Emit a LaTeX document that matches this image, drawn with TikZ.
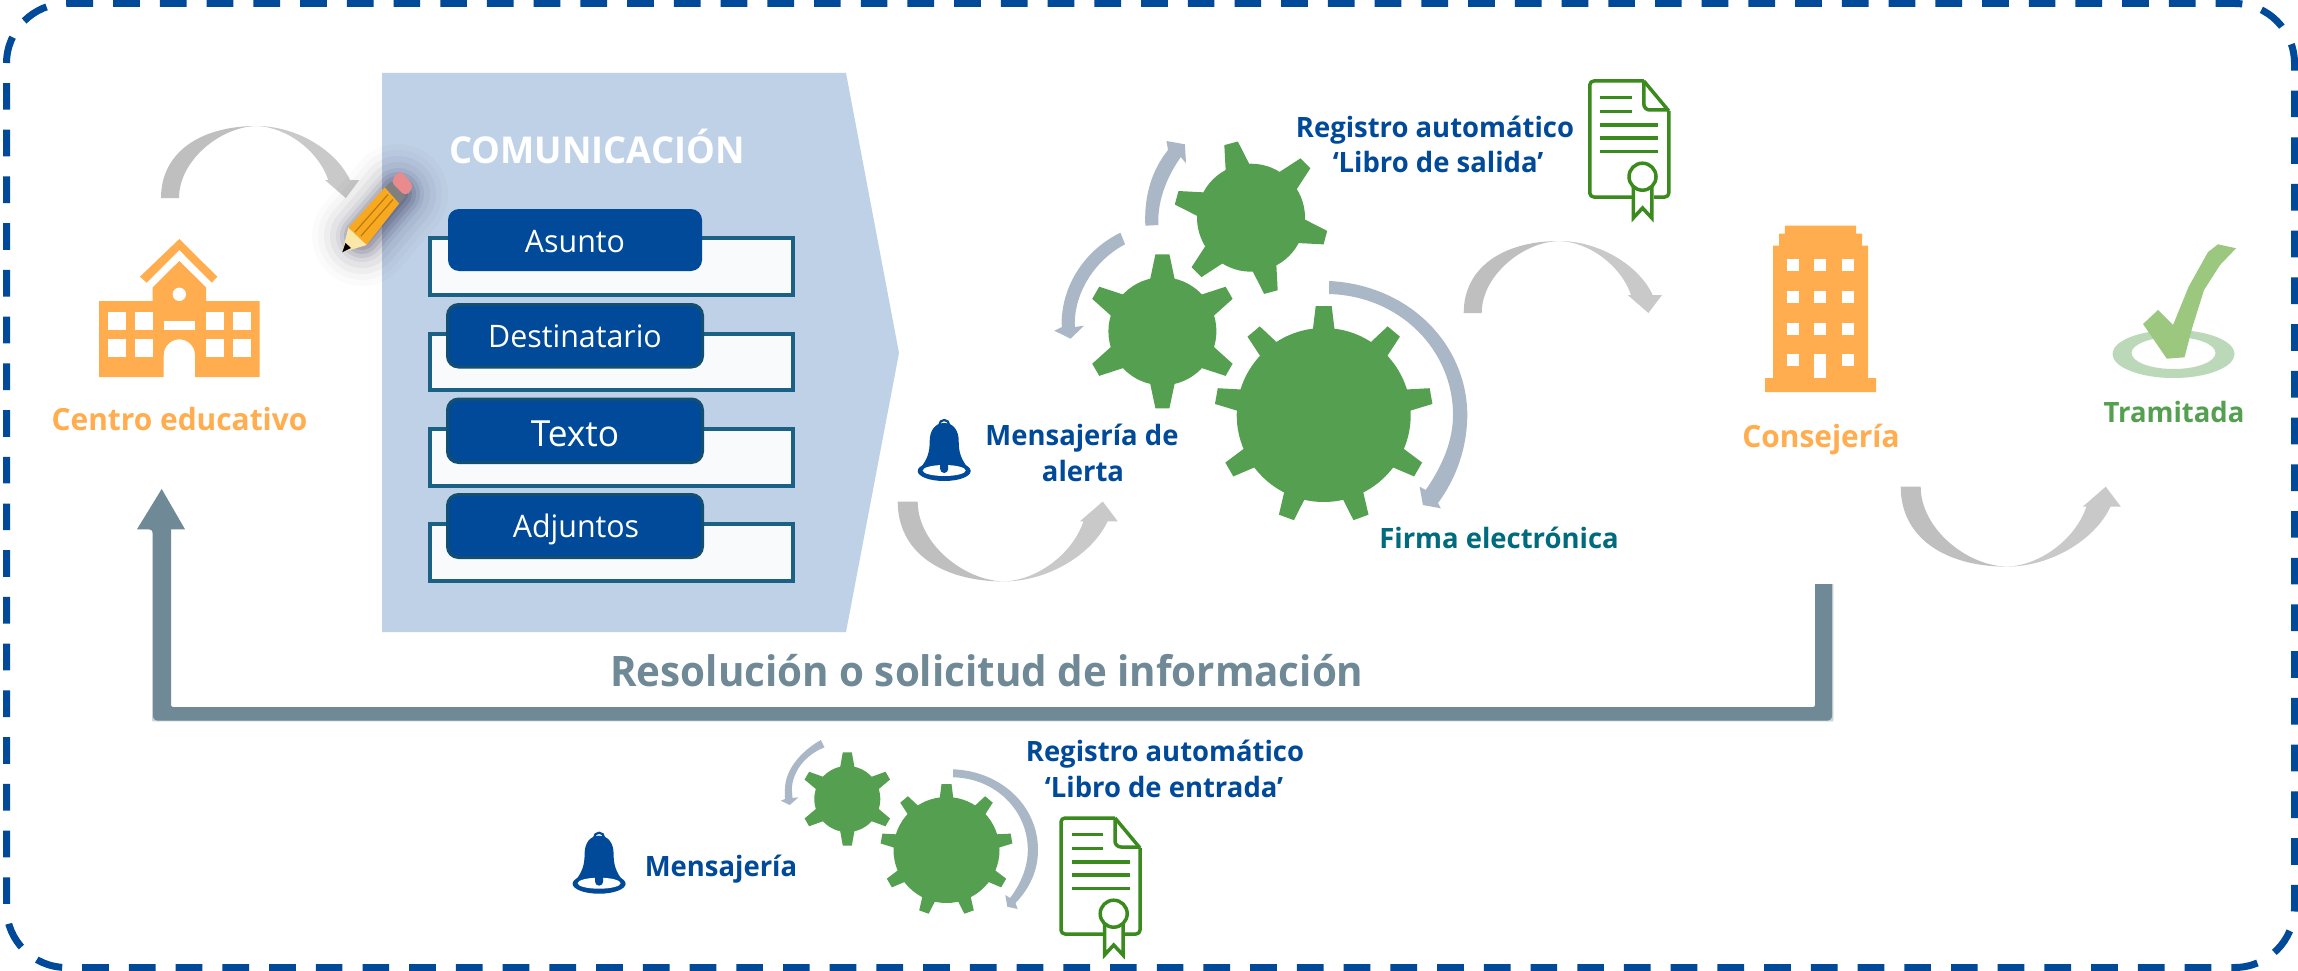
\documentclass[tikz,border=0pt]{standalone}
\usepackage{fontspec}
\usetikzlibrary{arrows.meta,calc}
\setmainfont{Open Sans}
\newfontfamily\lblfont[FakeStretch=0.98]{Open Sans Bold}
\newfontfamily\resfont[FakeStretch=0.96]{Open Sans Bold}
\newfontfamily\fldfont[FakeStretch=0.98]{Open Sans}
\definecolor{brandblue}{HTML}{004A99}
\definecolor{panelblue}{HTML}{BFD1E6}
\definecolor{fieldedge}{HTML}{1B6085}
\definecolor{fieldfill}{HTML}{F8FAFC}
\definecolor{headedge}{HTML}{124F70}
\definecolor{orangei}{HTML}{FFAD4E}
\definecolor{greeni}{HTML}{55A050}
\definecolor{certgreen}{HTML}{3A8A1E}
\definecolor{tealt}{HTML}{006B7D}
\definecolor{slatea}{HTML}{6F8997}
\definecolor{arrowb}{HTML}{AAB7C6}
\definecolor{greya}{HTML}{BFBFBF}
\definecolor{greyb}{HTML}{C9C9C9}
\definecolor{pencilbody}{HTML}{F8A91F}
\definecolor{pencilline}{HTML}{B97A12}
\definecolor{pencilwood}{HTML}{FBE7A8}
\definecolor{pencilrub}{HTML}{E98A8C}
\tikzset{
  lbl/.style={inner sep=0pt,anchor=base,font=\lblfont\fontsize{28}{32}\selectfont,align=center},
  fieldbox/.style={draw=fieldedge,fill=fieldfill,line width=4pt},
  headbox/.style={fill=brandblue,draw=headedge,line width=3pt,rounded corners=11pt},
  fldtext/.style={inner sep=0pt,anchor=base,text=white,font=\fldfont\fontsize{31}{36}\selectfont},
  curvegrey/.pic={
    \fill[greya] (0,0) .. controls (0,-46) and (40,-72) .. (95.7,-72)
      .. controls (60,-71.5) and (18,-38) .. (18,0) -- cycle;
    \fill[greyb] (95.7,-72) .. controls (135,-72) and (175,-48) .. (189,-18)
      -- (198.3,-18) -- (184.7,0) -- (164,-18) -- (167.3,-18)
      .. controls (157,-48) and (125,-71) .. (95.7,-72) -- cycle;
  },
  bell/.pic={
    \fill[brandblue] (26.5,4) .. controls (17,4) and (12,12) .. (12,22)
      .. controls (12,33) and (10,40) .. (2,50) -- (51,50)
      .. controls (43,40) and (41,33) .. (41,22)
      .. controls (41,12) and (36,4) .. (26.5,4) -- cycle;
    \draw[brandblue,line width=2.2pt] (26.5,6) circle[radius=5];
    \fill[brandblue] (26.5,52) ellipse[x radius=26.5,y radius=10];
    \fill[white] (26.5,51.5) ellipse[x radius=21.5,y radius=5.5];
    \fill[brandblue] (22.5,44) -- (30.5,44) -- (30.5,50) arc[start angle=0,end angle=180,radius=4] -- cycle;
  },
  certificate/.pic={
    \draw[certgreen,line width=3.5pt,line join=round,rounded corners=4pt]
      (56,2) -- (2,2) -- (2,118) -- (81,118) -- (81,32);
    \draw[certgreen,line width=3.5pt,line join=round] (56,2) -- (81,32);
    \draw[certgreen,line width=3.5pt,rounded corners=6pt] (56,2) -- (56,31) -- (81,31);
    \foreach \ly/\lx in {18.7/44,32.7/44,46/70.6,59/70.6,72.7/70.6}
      \draw[certgreen,line width=3.5pt] (12.6,\ly) -- (\lx,\ly);
    \fill[white] (44,105) rectangle (66,125);
    \draw[certgreen,line width=3.5pt,fill=white,line join=miter] (45.5,108) -- (45.5,139) -- (54.7,129) -- (64,139) -- (64,108);
    \draw[certgreen,line width=3.5pt,fill=white] (54.7,97.7) ellipse[x radius=13.5,y radius=13.5];
  }
}
% gear: cx cy body-radius tip-radius teeth rotation base-half tip-half
\newcommand{\geardraw}[8]{%
  \begin{scope}[shift={(#1,#2)}]
    \fill[greeni] (0,0) circle[radius=#3];
    \foreach \gi in {1,...,#5}{
      \fill[greeni,rotate={#6+360*\gi/#5}] (-#7,{-#3+3}) -- (-#8,-#4) -- (#8,-#4) -- (#7,{-#3+3}) -- cycle;
    }
  \end{scope}}
\begin{document}
\begin{tikzpicture}[x=1pt,y=-1pt]
\useasboundingbox (0,0) rectangle (2298,971);
\fill[white] (0,0) rectangle (2298,971);
% outer border
\draw[brandblue,line width=7pt,dash pattern=on 26.7pt off 20.02pt]
  (66.5,3.5) -- (2234.5,3.5) arc[start angle=-90,end angle=0,radius=60] -- (2294.5,907.5)
  arc[start angle=0,end angle=90,radius=60] -- (66.5,967.5) arc[start angle=90,end angle=180,radius=60]
  -- (6.5,63.5) arc[start angle=180,end angle=270,radius=60];
% panel
\fill[panelblue] (382,73) -- (846,73) -- (899,353) -- (846,632) -- (382,632) -- cycle;
\node[lbl,text=white,font=\lblfont\fontsize{37}{40}\selectfont] (comunicacion) at (597,163.5) {COMUNICACIÓN};
% fields
\foreach \fy/\fb in {238/295,333.6/390.4,429/485.7,524/581}
  \draw[fieldbox] (429.5,\fy) rectangle (793,\fb);
\fill[brandblue,rounded corners=11pt] (448,209) rectangle (702,271);
\draw[headbox] (447.5,304.5) rectangle (702.5,367);
\draw[headbox] (447.5,399) rectangle (702.5,462.5);
\draw[headbox] (447.5,494.5) rectangle (702.5,557.5);
\node[fldtext] (asunto) at (575,252) {Asunto};
\node[fldtext] (destinatario) at (575,347) {Destinatario};
\node[fldtext,font=\fldfont\fontsize{36}{40}\selectfont] (texto) at (575,446) {Texto};
\node[fldtext] (adjuntos) at (576,537) {Adjuntos};
% school
\fill[orangei] (179.3,239) -- (217.3,276.7) -- (211.7,282.7) -- (179.3,250) -- (146.7,282.7) -- (140,276.7) -- cycle;
\fill[orangei] (179.3,261) -- (206,287.3) -- (206,301) -- (259.7,301) -- (259.7,377) -- (195,377) -- (195,355)
  arc[start angle=0,end angle=-180,radius=15.65] -- (163.7,377) -- (99,377) -- (99,301) -- (152.7,301) -- (152.7,287.3) -- cycle;
\fill[white] (179.3,294.3) circle[radius=6.7];
\foreach \wx in {108,134.7,206,232.7}
  \foreach \wy in {312.3,339}
    \fill[white] (\wx,\wy) rectangle ++(18,18);
\fill[white] (163.7,321) rectangle (195,330);
\node[lbl,text=orangei,font=\lblfont\fontsize{30.5}{36}\selectfont] (centro) at (179.5,430) {Centro educativo};
% curved grey arrow 1
\pic at (161,198) {curvegrey};
% pencil
\foreach \gw/\go in {100/.015,88/.02,76/.03,64/.04,52/.05,44/.07,36/.09,28/.1,20/.12}
  \draw[black!85!blue,line width=\gw pt,opacity=\go,line cap=round] (362,236) -- (398,194);
\fill[pencilbody] (348.3,227.7) -- (385,187.3) -- (399.3,203.3) -- (366.7,245) -- cycle;
\draw[pencilline,line width=1.2pt] (355,232) -- (388,194.5);
\draw[pencilline,line width=1.2pt] (361,236) -- (393,199.5);
\fill[pencilwood] (348.3,227.7) -- (356,235) -- (366.7,245) -- (342.3,252.3) -- cycle;
\fill[black] (342.3,252.3) -- (345.5,243) -- (351,248) -- cycle;
\fill[gray] (385,187.3) -- (390.7,181.7) -- (405.7,196.7) -- (399.3,203.3) -- cycle;
\fill[pencilrub,rounded corners=5pt] (390.7,181.7) -- (400,170) -- (414,186) -- (405.7,196.7) -- cycle;
% gears
\geardraw{1323.7}{415}{87}{109}{9}{0}{11}{8}
\geardraw{1162.4}{331.3}{54}{77}{6}{0}{12.5}{7}
\geardraw{1251}{217.7}{54}{77}{6}{15}{12.5}{7}
\geardraw{847.3}{799}{33}{46.7}{6}{0}{7.5}{4.5}
\geardraw{946.5}{850}{53}{66}{9}{0}{7}{5}
% blue-grey arrows
\fill[arrowb] (1329,281) .. controls (1410,285) and (1467,345) .. (1467.3,415)
  .. controls (1467,450) and (1455,480) .. (1438,503) -- (1440.8,508.3) -- (1422.9,505) -- (1419.6,486.7) -- (1425.7,490)
  .. controls (1443,465) and (1453,440) .. (1453,415) .. controls (1453,350) and (1400,296) .. (1329,294) -- cycle;
\fill[arrowb] (1120.4,232.7) .. controls (1085,250) and (1062,285) .. (1061.6,323) -- (1062,327) -- (1054.3,330.7) -- (1070.6,338.7) -- (1084,325.7) -- (1075,327)
  -- (1074.7,323) .. controls (1075,292) and (1095,260) .. (1125,244.3) -- cycle;
\fill[arrowb] (1145.3,225.7) .. controls (1144,195) and (1152,170) .. (1168,150) -- (1166.5,141) -- (1184.9,144.3) -- (1186,163.3) -- (1180.8,157)
  .. controls (1168,175) and (1157,200) .. (1158.4,225) -- cycle;
\fill[arrowb] (820.8,740) .. controls (800,752) and (785,770) .. (784.9,790) -- (785,799) -- (780.8,800.7) -- (789.8,805) -- (798.4,797.3) -- (792.5,798)
  -- (791.8,790) .. controls (792,772) and (805,755) .. (824.5,747.3) -- cycle;
\fill[arrowb] (953,769.3) .. controls (1000,771) and (1038,805) .. (1038,850)
  .. controls (1038,870) and (1030,888) .. (1015.5,903) -- (1017.6,909) -- (1007.3,906.7) -- (1005.3,895) -- (1010,898)
  .. controls (1020,885) and (1027.8,868) .. (1027.8,850) .. controls (1027.8,810) and (995,778) .. (953,777.3) -- cycle;
% grey arrows
\pic at (897.7,501.5) [xscale=1.11,yscale=-1.11] {curvegrey};
\pic at (1463.7,313) {curvegrey};
\pic at (1900.7,486.7) [xscale=1.11,yscale=-1.11] {curvegrey};
% labels
\node[lbl,text=brandblue] (regsal) at (1435,137) {Registro automático};
\node[lbl,text=brandblue] (libsal) at (1438,172) {‘Libro de salida’};
\node[lbl,text=brandblue] (menal1) at (1082,445.7) {Mensajería de};
\node[lbl,text=brandblue] (menal2) at (1083,481.7) {alerta};
\node[lbl,text=tealt] (firma) at (1499,548) {Firma electrónica};
\node[lbl,text=brandblue] (regent) at (1165,761.7) {Registro automático};
\node[lbl,text=brandblue] (libent) at (1164,797) {‘Libro de entrada’};
\node[lbl,text=brandblue] (mens) at (721,876.7) {Mensajería};
\pic at (917.7,419) {bell};
\pic at (572.6,831.7) {bell};
\pic at (1587.8,79) {certificate};
\pic at (1059,816) {certificate};
% office
\fill[orangei] (1784.8,225.7) -- (1856.2,225.7) -- (1856.2,233.7) -- (1862,233.7) -- (1862,245.7) -- (1868,245.7) -- (1868,378) -- (1876,378) -- (1876,392) -- (1765,392) -- (1765,378) -- (1773,378) -- (1773,245.7) -- (1779,245.7) -- (1779,233.7) -- (1784.8,233.7) -- cycle;
\foreach \wx in {1786.8,1814.4,1842}
  \foreach \wy in {259.3,291,322.7}
    \fill[white] (\wx,\wy) rectangle ++(11.8,12);
\fill[white] (1786.8,354) rectangle ++(11.8,12);
\fill[white] (1842,354) rectangle ++(11.8,12);
\fill[white] (1814.4,354) rectangle (1826.2,378);
\node[lbl,text=orangei,font=\lblfont\fontsize{30.5}{36}\selectfont] (cons) at (1821,447) {Consejería};
% check
\fill[greeni!40!white,even odd rule] (2173.5,354) ellipse[x radius=61,y radius=24] (2173.5,353) ellipse[x radius=42,y radius=16];
\fill[greeni!65!white!90!yellow] (2143,324) -- (2158,310) -- (2173,325) -- (2188.5,287) -- (2208,252) -- (2218,244.3) -- (2236,248.3) -- (2220,265) -- (2204,290) -- (2192.5,326.7) -- (2184.5,357.3) -- (2166.8,358.7) -- cycle;
\node[lbl,text=greeni] (tram) at (2174,422.7) {Tramitada};
% return path
\coordinate (retstart) at (1823.5,584);
\coordinate (retcorner) at (1832,720.5);
\coordinate (retcornerb) at (153,720.5);
\coordinate (rettip) at (161.7,489);
\foreach \gw/\go in {3/.15,1.5/.25}
  \draw[slatea,opacity=\go,line width=\gw pt,line join=round] (retstart -| retcorner) -- (retcorner) -- (retcornerb) -- (153,529.3);
\fill[slatea,rounded corners=4pt] (retstart -| retcorner) -- (retcorner) -- (retcornerb) -- (153,529.3) [sharp corners] -- (137,529.3) -- (rettip) -- (185,529.3) -- (171,529.3) [rounded corners=2pt] -- (171,707) -- (1815,707) [sharp corners] -- (1815,584) -- cycle;
\node[lbl,text=slatea,font=\resfont\fontsize{42}{46}\selectfont] (res) at (987,686) {Resolución o solicitud de información};
\end{tikzpicture}
\end{document}
